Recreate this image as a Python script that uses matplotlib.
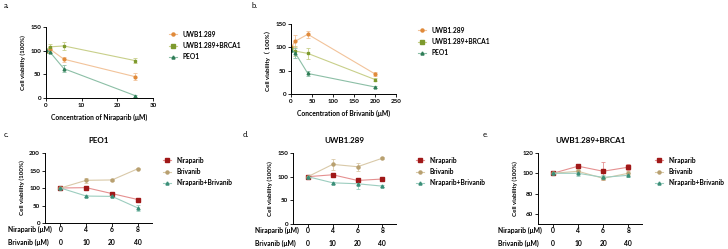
import matplotlib
matplotlib.use("Agg")
import matplotlib.pyplot as plt
from matplotlib.lines import Line2D

plt.rcParams['font.family'] = ['Lato', 'DejaVu Sans']
plt.rcParams['font.weight'] = 'bold'

W, H = 728, 249
fig = plt.figure(figsize=(W / 100, H / 100), dpi=100)

# ---------------- data ----------------
# panel a: Niraparib dose response
nira_conc = [0, 1, 5, 25]
a_uwb = [100, 104, 82, 45]
a_uwb_err = [4, 6, 5, 7]
a_brca = [100, 108, 110, 79]
a_brca_err = [4, 7, 8, 6]
a_peo = [102, 98, 62, 5]
a_peo_err = [3, 3, 8, 2]

# panel b: Brivanib dose response
briv_conc = [0, 10, 40, 200]
b_uwb = [100, 113, 128, 43]
b_uwb_err = [5, 13, 7, 4]
b_brca = [98, 92, 87, 31]
b_brca_err = [5, 10, 12, 4]
b_peo = [95, 88, 44, 15]
b_peo_err = [4, 10, 6, 2]

series_ab = ["UWB1.289", "UWB1.289+BRCA1", "PEO1"]

# panels c-e: combination
nira_doses = ["0", "4", "6", "8"]
briv_doses = ["0", "10", "20", "40"]
combo_series = ["Niraparib", "Brivanib", "Niraparib+Brivanib"]

c_nira = [100, 101, 84, 67]
c_nira_err = [2, 3, 3, 3]
c_briv = [100, 122, 123, 155]
c_briv_err = [2, 8, 2, 2]
c_combo = [100, 77, 76, 43]
c_combo_err = [2, 2, 3, 8]

d_nira = [100, 104, 92, 95]
d_nira_err = [2, 3, 4, 2]
d_briv = [100, 126, 121, 139]
d_briv_err = [2, 11, 8, 2]
d_combo = [100, 87, 85, 80]
d_combo_err = [2, 2, 10, 2]

e_nira = [100, 107, 102, 106]
e_nira_err = [1, 2, 9, 3]
e_briv = [100, 102, 95, 100]
e_briv_err = [1, 2, 2, 2]
e_combo = [100, 100, 96, 98]
e_combo_err = [1, 3, 2, 2]

# ---------------- styles ----------------
col_ab = [("#e08a3a", "#f2c39a"), ("#7d9a2e", "#c8cf8a"), ("#2f7d57", "#8cbfa6")]
mk_ab = ["o", "s", "^"]
col_ce = [("#a01818", "#e59090"), ("#b8a070", "#d9c9a8"), ("#3a8f78", "#9ccdbf")]
mk_ce = ["s", "o", "^"]

FS = 4.5


def px_axes(x0, y0, x1, y1):
    return fig.add_axes([x0 / W, 1 - y1 / H, (x1 - x0) / W, (y1 - y0) / H])


def style(ax):
    for s in ["top", "right"]:
        ax.spines[s].set_visible(False)
    for s in ["left", "bottom"]:
        ax.spines[s].set_linewidth(0.7)
    ax.tick_params(labelsize=FS, width=0.6, length=2, pad=1.5)
    for lab in ax.get_xticklabels() + ax.get_yticklabels():
        lab.set_fontweight('bold')


def legend(ax, labels, colors, markers, x, y):
    handles = [Line2D([], [], color=c[1], marker=m, markerfacecolor=c[0],
                      markeredgecolor=c[0], markersize=2.2, lw=0.8)
               for c, m in zip(colors, markers)]
    leg = fig.legend(handles, labels, loc="upper left",
                     bbox_to_anchor=(x / W, 1 - y / H), frameon=False,
                     prop={'size': FS + 0.3, 'weight': 'bold'},
                     handlelength=1.3, handletextpad=0.8,
                     labelspacing=0.65, borderaxespad=0)
    return leg


def plot_series(ax, x, ys, errs, colors, markers, ms=2.0):
    for y, e, c, m in zip(ys, errs, colors, markers):
        ax.errorbar(x, y, yerr=e, color=c[1], lw=0.8, marker=m,
                    markersize=ms, markerfacecolor=c[0], markeredgecolor=c[0],
                    ecolor=c[1], elinewidth=0.6, capsize=1.2, capthick=0.6)


# ---------- panel a ----------
ax = px_axes(46, 27, 153, 98)
plot_series(ax, nira_conc, [a_uwb, a_brca, a_peo],
            [a_uwb_err, a_brca_err, a_peo_err], col_ab, mk_ab)
ax.set_xlim(0, 30)
ax.set_ylim(0, 150)
ax.set_xticks([0, 10, 20, 30])
ax.set_yticks([0, 50, 100, 150])
ax.set_xlabel("Concentration of Niraparib (μM)", fontsize=FS + 0.4,
              fontweight='bold', labelpad=4)
ax.set_ylabel("Cell viability (100%)", fontsize=FS, fontweight='bold', labelpad=3)
style(ax)
legend(ax, series_ab, col_ab, mk_ab, 166, 28)

# ---------- panel b ----------
ax = px_axes(291, 24, 396, 94)
plot_series(ax, briv_conc, [b_uwb, b_brca, b_peo],
            [b_uwb_err, b_brca_err, b_peo_err], col_ab, mk_ab)
ax.set_xlim(0, 250)
ax.set_ylim(0, 150)
ax.set_xticks([0, 50, 100, 150, 200, 250])
ax.set_yticks([0, 50, 100, 150])
ax.set_xlabel("Concentration of Brivanib (μM)", fontsize=FS + 0.4,
              fontweight='bold', labelpad=4)
ax.set_ylabel("Cell viability（ 100%）", fontsize=FS,
              fontweight='bold', labelpad=3,
              fontfamily=['Lato', 'Noto Sans CJK SC', 'DejaVu Sans'])
style(ax)
legend(ax, series_ab, col_ab, mk_ab, 415, 24)


# ---------- panels c-e ----------
def combo_panel(box, title, ys, errs, ylim, yticks, legx, legy, rowlabel_x):
    x0, y0, x1, y1 = box
    ax = px_axes(x0, y0, x1, y1)
    pos = list(range(len(nira_doses)))
    plot_series(ax, pos, ys, errs, col_ce, mk_ce, ms=2.2)
    ax.set_xlim(-0.6, 3.55)
    ax.set_ylim(*ylim)
    ax.set_yticks(yticks)
    ax.set_xticks(pos)
    ax.set_xticklabels([])
    ax.set_ylabel("Cell viability (100%)", fontsize=FS, fontweight='bold', labelpad=3)
    ax.set_title(title, fontsize=FS + 1.3, fontweight='bold', pad=7)
    style(ax)
    # dose rows below the axis
    for lab, doses, ypx in [("Niraparib (μM)", nira_doses, y1 + 6),
                            ("Brivanib (μM)", briv_doses, y1 + 19)]:
        fig.text(rowlabel_x / W, 1 - ypx / H, lab, fontsize=FS + 0.4,
                 fontweight='bold', ha='left', va='center')
        for p, d in zip(pos, doses):
            xd = ax.transData.transform((p, 0))[0] / fig.bbox.width
            fig.text(xd, 1 - ypx / H, d, fontsize=FS + 0.4,
                     fontweight='bold', ha='center', va='center')
    legend(ax, combo_series, col_ce, mk_ce, legx, legy)
    return ax


combo_panel((45, 153, 152, 223), "PEO1", [c_nira, c_briv, c_combo],
            [c_nira_err, c_briv_err, c_combo_err], (0, 200),
            [0, 50, 100, 150, 200], 160, 154, 8)
combo_panel((293, 153, 396, 224), "UWB1.289", [d_nira, d_briv, d_combo],
            [d_nira_err, d_briv_err, d_combo_err], (0, 150),
            [0, 50, 100, 150], 413, 154, 255)
combo_panel((538, 153, 642, 224), "UWB1.289+BRCA1", [e_nira, e_briv, e_combo],
            [e_nira_err, e_briv_err, e_combo_err], (50, 120),
            [60, 80, 100, 120], 652, 154, 498)

# panel letters
for lab, x, y in [("a.", 4, 6), ("b.", 251, 6), ("c.", 4, 134),
                  ("d.", 243, 134), ("e.", 483, 134)]:
    fig.text(x / W, 1 - y / H, lab, fontsize=FS + 1, ha='left', va='center',
             fontweight='normal')

fig.savefig("out.png", dpi=100)
